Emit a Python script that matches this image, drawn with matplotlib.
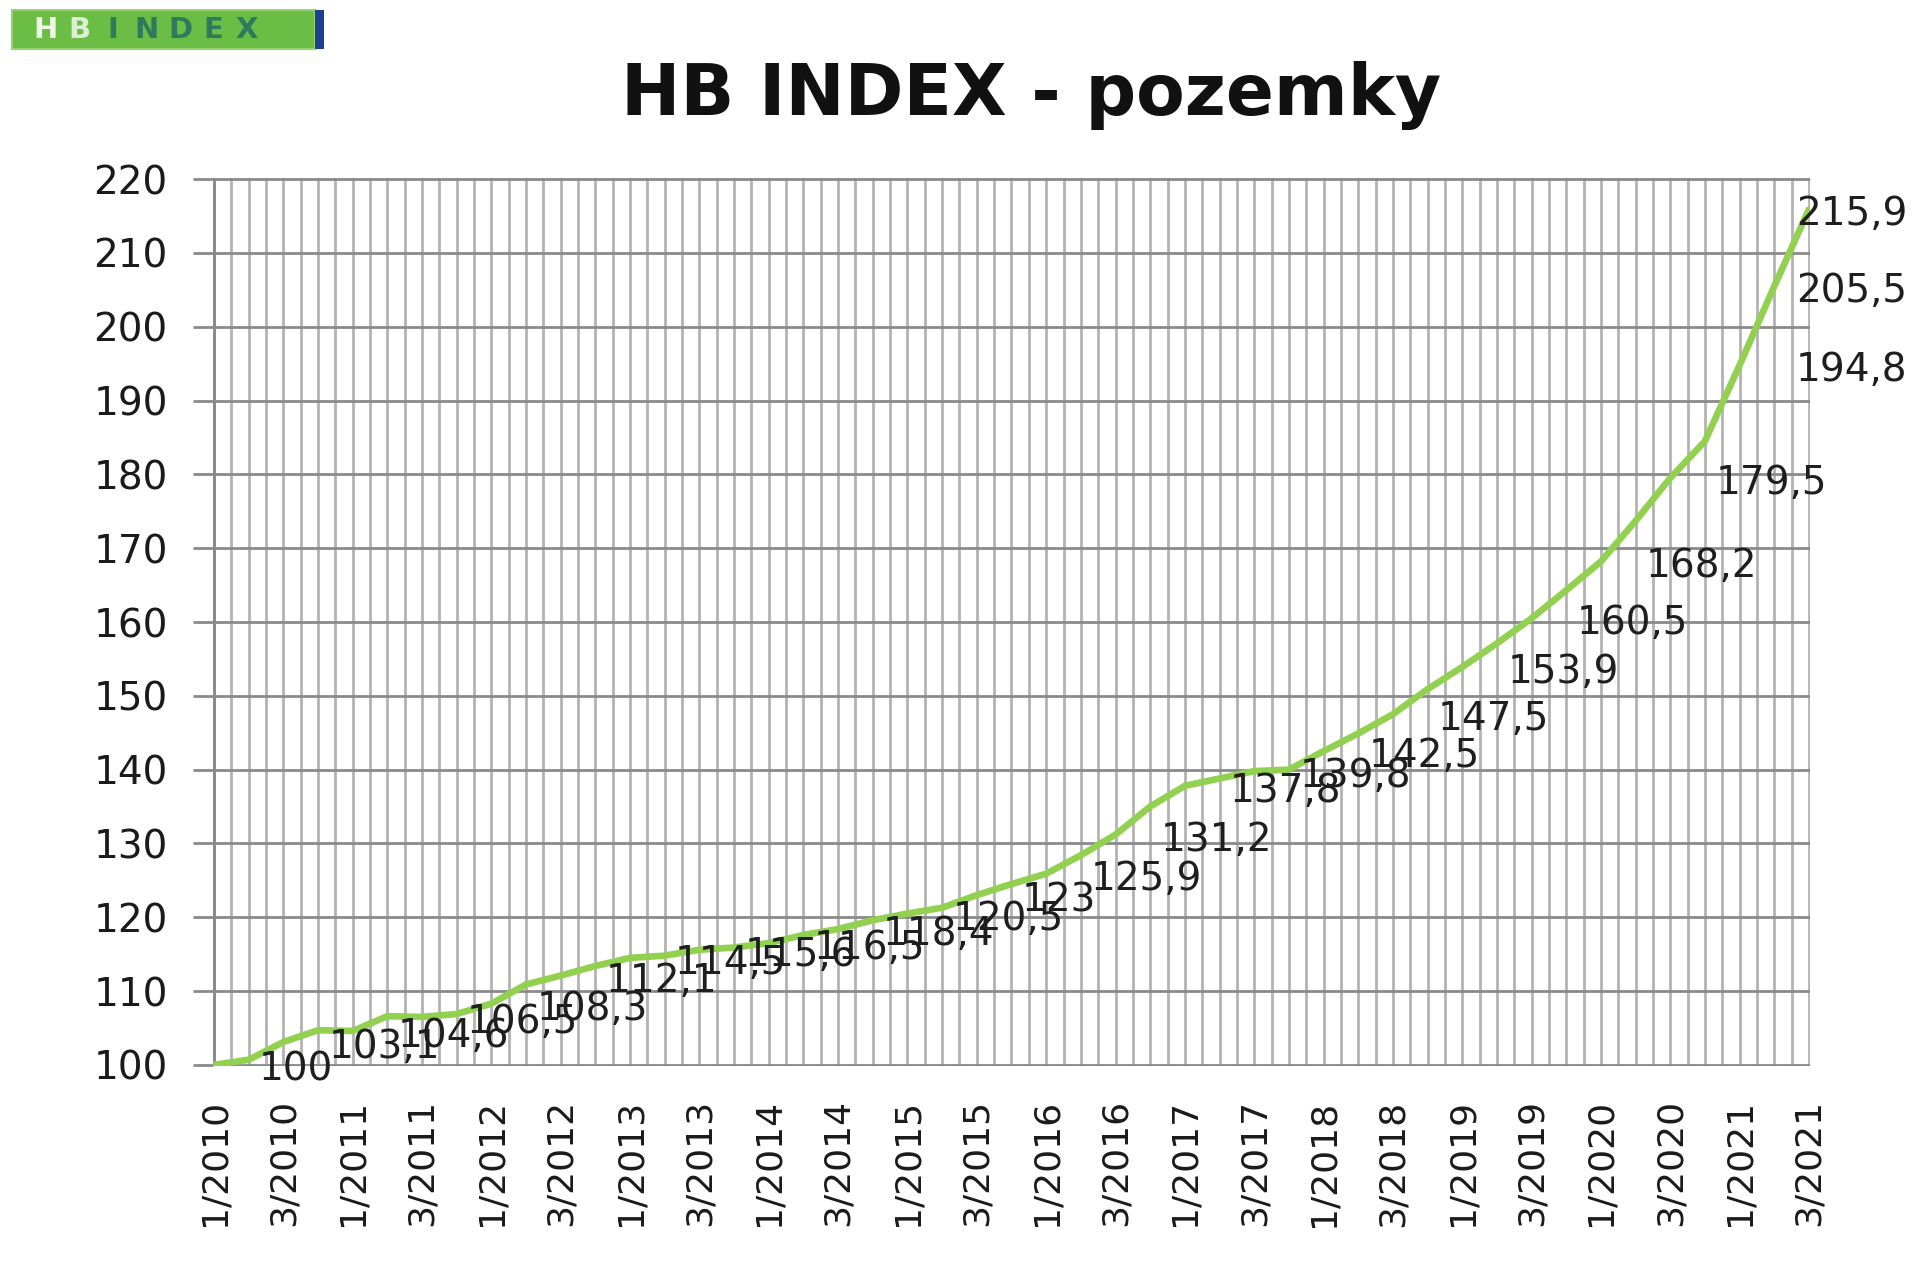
import matplotlib
matplotlib.use("Agg")
import matplotlib.pyplot as plt
import matplotlib.transforms as mtrans
from matplotlib.patches import Rectangle
import numpy as np

# ---------------- data ----------------
years = list(range(2010, 2022))
quarters = [f"{q}/{y}" for y in years for q in (1, 2, 3, 4)][:47]   # 1/2010 .. 3/2021
values = [100.0, 100.7, 103.1, 104.7, 104.6, 106.6, 106.5, 106.9,
          108.3, 110.9, 112.1, 113.4, 114.5, 114.8, 115.6, 115.9,
          116.5, 117.6, 118.4, 119.6, 120.5, 121.3, 123.0, 124.5,
          125.9, 128.4, 131.2, 135.0, 137.8, 138.8, 139.8, 140.0,
          142.5, 144.9, 147.5, 150.9, 153.9, 157.1, 160.5, 164.3,
          168.2, 173.7, 179.5, 184.5, 194.8, 205.5, 215.9]
tick_labels = [f"{q}/{y}" for y in years for q in (1, 3)]          # shown axis labels
labeled_quarters = [q for q in quarters if q.startswith(("1/", "3/"))] + ["2/2021"]
y_ticks = list(range(100, 221, 10))

title = "HB INDEX - pozemky"

# ---------------- figure ----------------
W, H = 1913, 1262
fig = plt.figure(figsize=(W / 100, H / 100), dpi=100)
fig.patch.set_facecolor("white")
ax = fig.add_axes([213 / W, 1 - 1066 / H, (1810 - 213) / W, (1066 - 178) / H])

x = np.arange(len(values))
ax.set_xlim(-0.03, len(values) - 1 + 0.03)
ax.set_ylim(99.85, 220.15)

for s in ax.spines.values():
    s.set_visible(False)

# vertical grid (every half quarter)
for gx in np.arange(0, len(values) - 0.5 + 0.01, 0.5):
    ax.axvline(gx, color="#b3b3b3", lw=2.0, zorder=1)
# horizontal grid
for gy in y_ticks:
    ax.axhline(gy, color="#8a8a8a", lw=2.0, zorder=2)
ax.axvline(0, color="#8a8a8a", lw=2.1, zorder=2)

# line
ax.plot(x, values, color="#92d050", lw=4.8, zorder=4, solid_capstyle="round",
        solid_joinstyle="round")

# ticks
tick_pos = [quarters.index(t) for t in tick_labels]
ax.set_xticks(tick_pos)
ax.set_xticklabels(tick_labels, rotation=90, fontsize=26, color="#1a1a1a",
                   ha="center", va="top")
ax.tick_params(axis="x", length=0, pad=24)
ax.set_yticks(y_ticks)
ax.set_yticklabels([str(v) for v in y_ticks], fontsize=28, color="#1a1a1a")
ax.tick_params(axis="y", length=14.5, width=2.0, color="#8a8a8a", pad=18, direction="out")

# data labels
blend = mtrans.blended_transform_factory(fig.transFigure, ax.transData)
for q in labeled_quarters:
    i = quarters.index(q)
    v = values[i]
    txt = f"{v:g}".replace(".", ",")
    if i >= 44:
        ax.annotate(txt, xy=(i, v), xytext=(0.997, v - 0.6), textcoords=blend,
                    ha="right", va="center", fontsize=28, color="#1e1e1e",
                    zorder=5, annotation_clip=False)
    else:
        ax.annotate(txt, xy=(i, v), xytext=(45, -5), textcoords="offset pixels",
                    ha="left", va="center", fontsize=28, color="#1e1e1e",
                    zorder=5, annotation_clip=False)

# title
fig.text(1031 / W, 1 - 95 / H, title, ha="center", va="center",
         fontsize=51, fontweight="bold", color="#111111")

# logo
fig.patches.append(Rectangle((12 / W, 1 - 49 / H), (315 - 12) / W, 39 / H,
                             transform=fig.transFigure, facecolor="#6cbd45",
                             edgecolor="#93d46e", lw=1.5))
fig.patches.append(Rectangle((315 / W, 1 - 49 / H), 9 / W, 39 / H,
                             transform=fig.transFigure, facecolor="#1f3f95",
                             edgecolor="none"))
letters = "HBINDEX"
lcolors = ["#eef7e6", "#dcefd0", "#2f7a5c", "#2f7a5c", "#2f7a5c", "#2f7a5c", "#2f7a5c"]
for k, (ch, c) in enumerate(zip(letters, lcolors)):
    fig.text((46 + k * 33.5) / W, 1 - 30 / H, ch, ha="center", va="center",
             fontsize=21, fontweight="bold", color=c)

fig.savefig("out.png", dpi=100, facecolor="white")
